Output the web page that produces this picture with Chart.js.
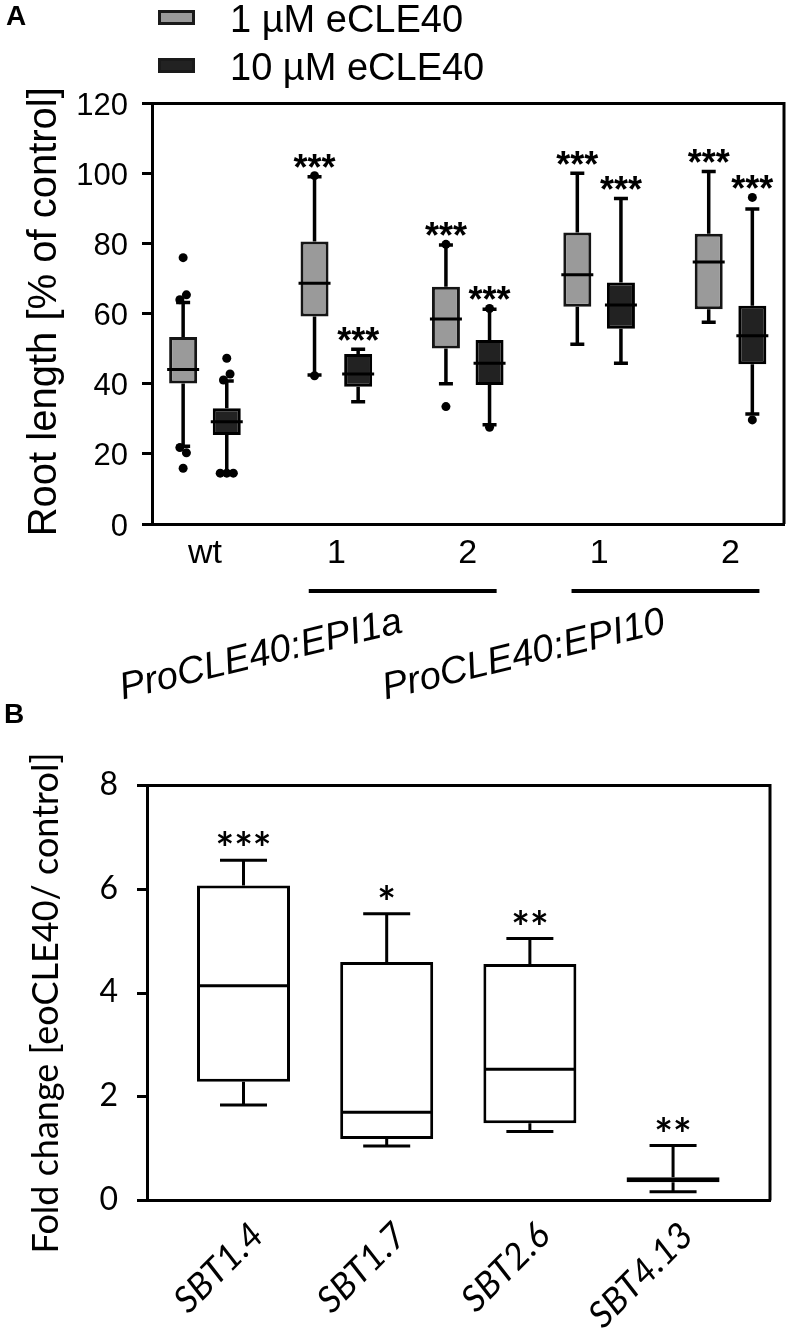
<!DOCTYPE html>
<html><head><meta charset="utf-8">
<script src="https://cdn.jsdelivr.net/npm/chart.js@4.4.1/dist/chart.umd.min.js"></script>
<style>
html,body{margin:0;padding:0;background:#fff;}
#wrap{position:relative;width:789px;height:1331px;overflow:hidden;background:#fff;}
#cA{position:absolute;left:0;top:0;}
#cB{position:absolute;left:0;top:700px;}
.panel{position:absolute;font-weight:bold;font-size:28px;font-family:"Liberation Sans",Arial,sans-serif;color:#000;line-height:1;}
</style></head><body>
<div id="wrap">
<canvas id="cA" width="789" height="720"></canvas>
<canvas id="cB" width="789" height="631"></canvas>
<div class="panel" style="left:6px;top:2px">A</div>
<div class="panel" style="left:4px;top:700px">B</div>
</div>
<script>
// ---------------- Panel A data ----------------
const categoriesA = ['wt', '1', '2', '1', '2'];
const seriesNamesA = ['1 µM eCLE40', '10 µM eCLE40'];
const yTitleA = 'Root length [% of control]';
const groupLabelsA = ['ProCLE40:EPI1a', 'ProCLE40:EPI10'];
const groupMembersA = [[1, 2], [3, 4]];

const low1  = [22.2, 42.5, 40.0, 51.3, 57.6];
const q1_1  = [40.1, 59.2, 50.1, 62.0, 61.3];
const med1  = [44.1, 68.7, 58.5, 71.1, 74.8];
const q3_1  = [53.4, 80.6, 67.7, 83.2, 82.8];
const high1 = [63.2, 99.1, 79.6, 100.1, 100.6];
const outliers1 = [[76.0, 65.4, 64.0, 21.8, 20.3, 15.9], [99.4, 42.3], [79.8, 33.5], [], []];
const stars1 = ['', '***', '***', '***', '***'];

const low10  = [14.5, 34.9, 28.3, 45.9, 31.4];
const q1_10  = [25.4, 39.2, 39.7, 55.7, 45.6];
const med10  = [29.2, 42.8, 45.9, 62.5, 53.7];
const q3_10  = [33.0, 48.5, 52.5, 68.9, 62.3];
const high10 = [40.8, 49.9, 61.3, 92.9, 89.9];
const outliers10 = [[47.3, 42.8, 41.1, 14.5, 14.5, 14.5], [], [61.5, 27.6], [], [93.2, 29.7]];
const stars10 = ['', '***', '***', '***', '***'];

// ---------------- Panel B data ----------------
const categoriesB = ['SBT1.4', 'SBT1.7', 'SBT2.6', 'SBT4.13'];
const yTitleB = 'Fold change [eoCLE40/ control]';
const lowB  = [1.84, 1.05, 1.33, 0.17];
const q1B   = [2.29, 1.185, 1.49, 0.35];
const medB  = [4.14, 1.70, 2.53, 0.40];
const q3B   = [6.07, 4.60, 4.56, 0.45];
const highB = [6.56, 5.53, 5.05, 1.06];
const starsB = ['***', '*', '**', '**'];

// ---------------- helpers ----------------
const FA = '"Liberation Sans", Arial, sans-serif';
const FB = 'Lato, "Open Sans", sans-serif';
const seriesShift = 0.166;
const xs1 = categoriesA.map((_, i) => i - seriesShift);
const xs10 = categoriesA.map((_, i) => i + seriesShift);
const xsB = categoriesB.map((_, i) => i);

function outlierPoints(xs, outl, q1, q3, step) {
  const pts = [];
  outl.forEach((vals, i) => {
    const above = vals.filter(v => v > q3[i]).sort((a, b) => a - b);
    const below = vals.filter(v => v < q1[i]).sort((a, b) => b - a);
    [above, below].forEach(list => {
      let k = 0;
      while (k < list.length) {
        let j = k;
        while (j + 1 < list.length && Math.abs(list[j + 1] - list[k]) < 2.5) j++;
        const n = j - k + 1;
        for (let m = 0; m < n; m++) pts.push({x: xs[i] + (m - (n - 1) / 2) * step, y: list[k + m]});
        k = j + 1;
      }
    });
  });
  return pts;
}

function boxDecor(series, opt) {
  return {
    id: 'boxDecor' + opt.key,
    beforeDatasetsDraw(chart) {
      const {ctx, scales: {x, y}} = chart;
      ctx.save();
      series.forEach(s => {
        s.xs.forEach((xv, i) => {
          const px = x.getPixelForValue(xv);
          const hw = opt.capWidth / 2;
          ctx.strokeStyle = opt.lineColor;
          ctx.lineWidth = opt.whiskerWidth;
          ctx.lineCap = 'butt';
          ctx.beginPath();
          ctx.moveTo(px, y.getPixelForValue(s.low[i])); ctx.lineTo(px, y.getPixelForValue(s.q1[i]));
          ctx.moveTo(px, y.getPixelForValue(s.q3[i])); ctx.lineTo(px, y.getPixelForValue(s.high[i]));
          ctx.stroke();
          ctx.lineWidth = opt.capThick;
          ctx.beginPath();
          ctx.moveTo(px - hw, y.getPixelForValue(s.low[i])); ctx.lineTo(px + hw, y.getPixelForValue(s.low[i]));
          ctx.moveTo(px - hw, y.getPixelForValue(s.high[i])); ctx.lineTo(px + hw, y.getPixelForValue(s.high[i]));
          ctx.stroke();
        });
      });
      ctx.restore();
    },
    afterDatasetsDraw(chart) {
      const {ctx, scales: {x, y}} = chart;
      ctx.save();
      series.forEach(s => {
        s.xs.forEach((xv, i) => {
          const px = x.getPixelForValue(xv);
          const hb = opt.boxWidth / 2 + opt.medianExtra;
          const py = y.getPixelForValue(s.med[i]);
          ctx.strokeStyle = opt.lineColor;
          ctx.lineWidth = opt.medianWidth;
          ctx.beginPath();
          ctx.moveTo(px - hb, py); ctx.lineTo(px + hb, py);
          ctx.stroke();
          if (s.stars && s.stars[i]) {
            const tops = [s.high[i]].concat((s.outliers && s.outliers[i]) ? s.outliers[i] : []);
            const top = Math.max.apply(null, tops);
            ctx.fillStyle = '#000';
            ctx.font = opt.starFont;
            ctx.textAlign = 'center';
            ctx.textBaseline = 'alphabetic';
            ctx.fillText(s.stars[i], px, y.getPixelForValue(top) + opt.starDy);
          }
        });
      });
      ctx.restore();
    }
  };
}

const framePlugin = {
  id: 'frame',
  afterDraw(chart) {
    const {ctx, chartArea: a} = chart;
    ctx.save();
    ctx.strokeStyle = '#000';
    ctx.lineWidth = 3;
    ctx.beginPath();
    ctx.moveTo(a.left, a.top); ctx.lineTo(a.right, a.top); ctx.lineTo(a.right, a.bottom);
    ctx.stroke();
    ctx.restore();
  }
};

function yTitlePlugin(text, font, cx, dy) {
  return {
    id: 'ytitle',
    afterDraw(chart) {
      const {ctx, chartArea: a} = chart;
      ctx.save();
      ctx.translate(cx, (a.top + a.bottom) / 2 + dy);
      ctx.rotate(-Math.PI / 2);
      ctx.font = font;
      ctx.fillStyle = '#000';
      ctx.textAlign = 'center';
      ctx.textBaseline = 'middle';
      ctx.fillText(text, 0, 0);
      ctx.restore();
    }
  };
}

const legendA = {
  id: 'legendA',
  afterDraw(chart) {
    const {ctx} = chart;
    ctx.save();
    chart.data.datasets.filter(d => d.type !== 'scatter').forEach((d, k) => {
      const top = 10 + k * 48;
      ctx.fillStyle = d.backgroundColor;
      ctx.fillRect(158, top, 37, 15);
      ctx.strokeStyle = '#1a1a1a';
      ctx.lineWidth = 3;
      ctx.strokeRect(159.5, top + 1.5, 34, 12);
      ctx.fillStyle = '#000';
      ctx.font = '38px ' + FA;
      ctx.textAlign = 'left';
      ctx.textBaseline = 'alphabetic';
      ctx.fillText(d.label, 230, top + 22);
    });
    ctx.restore();
  }
};

const groupLabelPlugin = {
  id: 'groupLabels',
  afterDraw(chart) {
    const {ctx, scales: {x}} = chart;
    ctx.save();
    groupLabelsA.forEach((lab, k) => {
      const [a, b] = groupMembersA[k];
      const x0 = x.getPixelForValue(a - 0.21), x1 = x.getPixelForValue(b + 0.22);
      ctx.strokeStyle = '#000';
      ctx.lineWidth = 4;
      ctx.beginPath(); ctx.moveTo(x0, 591); ctx.lineTo(x1, 591); ctx.stroke();
      const mid = x.getPixelForValue((a + b) / 2);
      ctx.save();
      ctx.translate(mid + 2, 632);
      ctx.rotate(-13.5 * Math.PI / 180);
      ctx.font = 'italic 38px ' + FA;
      ctx.fillStyle = '#000';
      ctx.textAlign = 'right';
      ctx.textBaseline = 'alphabetic';
      ctx.fillText(lab, 0, 0);
      ctx.restore();
    });
    ctx.restore();
  }
};

const xLabelsB = {
  id: 'xLabelsB',
  afterDraw(chart) {
    const {ctx, scales: {x}, chartArea: a} = chart;
    ctx.save();
    ctx.font = 'italic 36px ' + FB;
    ctx.fillStyle = '#000';
    ctx.textAlign = 'right';
    ctx.textBaseline = 'middle';
    categoriesB.forEach((lab, i) => {
      ctx.save();
      ctx.translate(x.getPixelForValue(i) + 14, a.bottom + 29);
      ctx.rotate(-45 * Math.PI / 180);
      ctx.fillText(lab, 0, 0);
      ctx.restore();
    });
    ctx.restore();
  }
};

const seriesA = [
  {xs: xs1, low: low1, q1: q1_1, med: med1, q3: q3_1, high: high1, outliers: outliers1, stars: stars1},
  {xs: xs10, low: low10, q1: q1_10, med: med10, q3: q3_10, high: high10, outliers: outliers10, stars: stars10}
];

new Chart(document.getElementById('cA'), {
  type: 'bar',
  data: {
    datasets: [
      {
        type: 'scatter', label: 'outliers',
        data: outlierPoints(xs1, outliers1, q1_1, q3_1, 0.05).concat(outlierPoints(xs10, outliers10, q1_10, q3_10, 0.05)),
        backgroundColor: '#000', borderWidth: 0, pointRadius: 4.5, order: 0
      },
      {
        label: seriesNamesA[0],
        data: xs1.map((x, i) => ({x, y: [q1_1[i], q3_1[i]]})),
        backgroundColor: '#9a9a9a', borderColor: '#151515', borderWidth: 3, borderSkipped: false,
        maxBarThickness: 28, grouped: false, order: 1
      },
      {
        label: seriesNamesA[1],
        data: xs10.map((x, i) => ({x, y: [q1_10[i], q3_10[i]]})),
        backgroundColor: '#222222', borderColor: '#000', borderWidth: 3, borderSkipped: false,
        maxBarThickness: 28, grouped: false, order: 1
      }
    ]
  },
  options: {
    responsive: false, animation: false, devicePixelRatio: 1,
    layout: {padding: {left: 0, right: 5, top: 103.5, bottom: 0}},
    plugins: {legend: {display: false}, tooltip: {enabled: false}},
    scales: {
      x: {
        type: 'linear', min: -0.403, max: 4.407, offset: false,
        grid: {display: false, drawTicks: false},
        border: {display: true, color: '#000', width: 3},
        afterBuildTicks: s => { s.ticks = categoriesA.map((_, i) => ({value: i})); },
        afterFit: s => { s.height = 196; },
        ticks: {autoSkip: false, maxRotation: 0, minRotation: 0, padding: 9, color: '#000',
                font: {family: FA, size: 34}, callback: v => categoriesA[v]}
      },
      y: {
        min: 0, max: 120,
        ticks: {stepSize: 20, padding: 14, labelOffset: 3, color: '#000', font: {family: FA, size: 31}},
        grid: {drawOnChartArea: false, drawTicks: true, tickLength: 10, tickWidth: 3, tickColor: '#000'},
        border: {display: true, color: '#000', width: 3},
        afterFit: s => { s.width = 152; }
      }
    }
  },
  plugins: [
    boxDecor(seriesA, {key: 'A', capWidth: 14, whiskerWidth: 3.5, capThick: 3.5, boxWidth: 28, medianExtra: 2,
                       medianWidth: 3, lineColor: '#000', starFont: 'bold 36px ' + FA, starDy: 4}),
    framePlugin, legendA, groupLabelPlugin,
    yTitlePlugin(yTitleA, '40px ' + FA, 45, -2)
  ]
});

const seriesB = [
  {xs: xsB, low: lowB, q1: q1B, med: medB, q3: q3B, high: highB, outliers: null, stars: starsB}
];

new Chart(document.getElementById('cB'), {
  type: 'bar',
  data: {
    datasets: [
      {
        label: 'Fold change',
        data: xsB.map((x, i) => ({x, y: [q1B[i], q3B[i]]})),
        backgroundColor: '#ffffff', borderColor: '#000', borderWidth: 3, borderSkipped: false,
        maxBarThickness: 93, grouped: false
      }
    ]
  },
  options: {
    responsive: false, animation: false, devicePixelRatio: 1,
    layout: {padding: {left: 0, right: 19, top: 85.5, bottom: 0}},
    plugins: {legend: {display: false}, tooltip: {enabled: false}},
    scales: {
      x: {
        type: 'linear', min: -0.674, max: 3.677, offset: false,
        grid: {display: false, drawTicks: false},
        border: {display: true, color: '#000', width: 3},
        afterBuildTicks: s => { s.ticks = categoriesB.map((_, i) => ({value: i})); },
        afterFit: s => { s.height = 130.5; },
        ticks: {display: false, autoSkip: false, callback: v => categoriesB[v]}
      },
      y: {
        min: 0, max: 8,
        ticks: {stepSize: 2, padding: 19, labelOffset: -1, color: '#000', font: {family: FB, size: 32}},
        grid: {drawOnChartArea: false, drawTicks: true, tickLength: 10, tickWidth: 3, tickColor: '#000'},
        border: {display: true, color: '#000', width: 3},
        afterFit: s => { s.width = 147; }
      }
    }
  },
  plugins: [
    boxDecor(seriesB, {key: 'B', capWidth: 47, whiskerWidth: 3, capThick: 3, boxWidth: 93, medianExtra: -1.5,
                       medianWidth: 3, lineColor: '#000', starFont: 'bold 44px ' + FB, starDy: 4}),
    framePlugin, xLabelsB,
    yTitlePlugin(yTitleB, '36px ' + FB, 46, 10)
  ]
});
</script>
</body></html>
